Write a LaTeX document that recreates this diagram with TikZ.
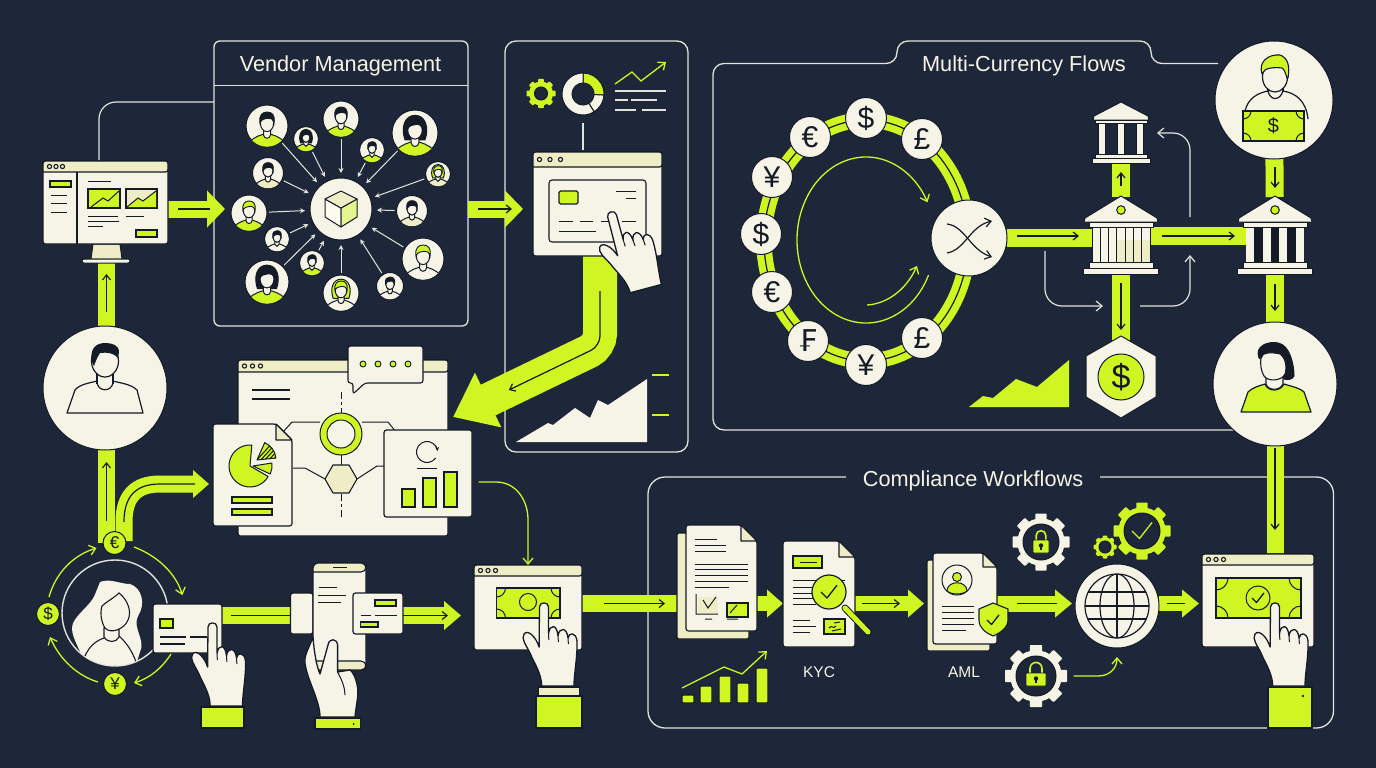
\documentclass[tikz,border=0pt]{standalone}
\usepackage{fontspec}
\setmainfont{Liberation Sans}
\newfontfamily\glyphfont{DejaVu Sans}
\usetikzlibrary{arrows.meta,calc,fit}
\definecolor{bg}{HTML}{1D2739}
\definecolor{lime}{HTML}{CFF523}
\definecolor{cream}{HTML}{F6F4E6}
\definecolor{pale}{HTML}{EFEDC6}
\definecolor{ink}{HTML}{141B27}
\definecolor{wirec}{HTML}{E2E3DA}
\pgfdeclarelayer{ground}\pgfdeclarelayer{frames}\pgfdeclarelayer{flows}\pgfsetlayers{ground,frames,flows,main}
\tikzset{
  frame/.style={draw=wirec,line width=1.3pt},
  wire/.style={draw=wirec,line width=1.2pt},
  wirearrow/.style={wire,-{Straight Barb[length=6pt,width=10pt]}},
  spoke/.style={draw=wirec,line width=1pt,shorten <=2pt,shorten >=5pt,-{Stealth[length=5pt,width=5pt]}},
  limewire/.style={draw=lime,line width=1.3pt},
  limearrow/.style={limewire,-{Straight Barb[length=6pt,width=10pt]}},
  bar/.style={draw=lime,line width=17pt},
  fatbar/.style 2 args={bar,-{Triangle[length=#1,width=#2]}},
  inner/.style 2 args={draw=ink,line width=1.2pt,shorten <=#1,shorten >=#2},
  innerarrow/.style 2 args={inner={#1}{#2},-{Straight Barb[length=5pt,width=8pt]}},
  disc/.style={circle,fill=cream,draw=ink,line width=1pt,inner sep=0pt,outer sep=0pt},
  coin/.style={disc,minimum size=41pt,text=ink,font=\fontsize{30}{30}\selectfont},
  minicoin/.style={disc,fill=lime,minimum size=23pt,text=ink,font=\fontsize{17}{17}\selectfont},
  sheet/.style={fill=cream,draw=ink,line width=1.2pt,rounded corners=2.5pt},
  sheetback/.style={fill=pale,draw=ink,line width=1.2pt,rounded corners=1.5pt},
  limebox/.style={fill=lime,draw=ink,line width=1.1pt},
  hidden/.style={draw=none},
  rule/.style={draw=ink,line width=1pt},
  title/.style={text=cream,font=\fontsize{21.7}{25}\selectfont,inner sep=0pt},
  caption/.style={text=cream,font=\fontsize{15.5}{18}\selectfont,inner sep=0pt},
}
% box node given by two opposite corners
\newcommand\bx[4]{\node[#2,fit={(#3) (#4)},inner sep=0pt,outer sep=0pt] (#1) {};}
% browser style window: name, x1, y1, x2, y2, title bar bottom, dot spacing
\newcommand\winbox[7]{%
  \bx{#1}{sheet}{#2,#3}{#4,#5}
  \draw[fill=pale,draw=ink,line width=1.2pt,rounded corners=2.5pt] (#2,#6) -- (#2,#3) -- (#4,#3) -- (#4,#6) [sharp corners] -- cycle;
  \foreach \k in {0,1,2}
    \draw[fill=pale,draw=ink,line width=1.1pt] ({#2+6.5+\k*#7},{(#3+#6)/2}) circle (2.1);
}
% pointing hand, fingertip at the given point
\newcommand\handicon[3]{%
  \begin{scope}[shift={(#1,#2)},rotate=#3]
    \draw[fill=cream,draw=ink,line width=1.3pt,line join=round]
      (-4.5,4) .. controls (-4.5,-1.5) and (4.5,-1.5) .. (4.5,4) -- (4.6,30)
      .. controls (6,21) and (13,21) .. (14,33)
      .. controls (15,24) and (23,24) .. (24,35)
      .. controls (25,29) and (32,29) .. (33,38)
      .. controls (33.5,55) and (30,70) .. (30,83) -- (-2.3,83)
      .. controls (-2.5,70) and (-10,60) .. (-14,50)
      .. controls (-18,42) and (-23,36) .. (-20,31)
      .. controls (-16,26) and (-8,34) .. (-4.9,44) -- cycle;
    \draw[rule] (4.6,30) -- (4.8,37) (14,33) -- (14.4,39) (24,35) -- (24.4,41);
  \end{scope}}
% banknote with quarter arcs in the corners
\newcommand\billicon[5]{%
  \draw[limebox] (#1,#2) rectangle (#3,#4);
  \begin{scope}
    \clip (#1,#2) rectangle (#3,#4);
    \draw[rule] (#1,#2) circle (#5) (#3,#2) circle (#5) (#1,#4) circle (#5) (#3,#4) circle (#5);
  \end{scope}}
% avatar: name, x, y, radius, hair colour, shirt colour, long hair flag
\newcommand\avatar[7]{%
  \node[disc,minimum size={2*#4*1pt}] (#1) at (#2,#3) {};
  \begin{scope}[shift={(#2,#3)},scale=#4/30]
    \begin{scope}
      \clip (0,0) circle (29.5);
      \ifnum#7=1
        \draw[fill=#5,draw=ink,line width=1pt] (-13,9) .. controls (-19,-8) and (-13,-23) .. (0,-23) .. controls (13,-23) and (19,-8) .. (13,9) -- cycle;
      \fi
      \draw[fill=#6,draw=ink,line width=1pt] (-28,32) .. controls (-25,18) and (-15,15) .. (-6,12) -- (6,12) .. controls (15,15) and (25,18) .. (28,32) -- cycle;
      \draw[fill=cream,draw=ink,line width=1pt] (-5,3) -- (-5,13) .. controls (-4,19) and (4,19) .. (5,13) -- (5,3) -- cycle;
    \end{scope}
    \draw[fill=cream,draw=ink,line width=1pt] (0,-4) ellipse [x radius=9.5,y radius=12];
    \draw[fill=#5,draw=ink,line width=.9pt] (-10,-4) .. controls (-12,-16) and (-6,-20) .. (0,-20) .. controls (7,-20) and (12,-16) .. (10,-4) .. controls (9,-10) and (5,-12) .. (1,-11) .. controls (-4,-10) and (-8,-10) .. (-10,-4) -- cycle;
  \end{scope}}
% gear: name, x, y, outer radius, hole radius, colour
\newcommand\gearicon[6]{%
  \node[circle,fill=#6,inner sep=0pt,outer sep=0pt,minimum size={1.66*#4*1pt}] (#1) at (#2,#3) {};
  \foreach \a in {0,45,...,315}
    \fill[#6,rotate around={\a:(#2,#3)},rounded corners=.8pt] ({#2-.2*#4},{#3-#4}) rectangle ({#2+.2*#4},{#3-.7*#4});
  \draw[fill=bg,draw=ink,line width=1pt] (#2,#3) circle (#5);
}
% padlock: centre x, body top, half width, body height
\newcommand\lockicon[4]{%
  \draw[draw=lime,line width=1.6pt] ({#1-.6*#3},#2) -- ({#1-.6*#3},{#2-.35*#4}) arc[start angle=180,end angle=360,radius={.6*#3}] -- ({#1+.6*#3},#2);
  \draw[fill=lime,draw=ink,line width=.6pt,rounded corners=1pt] ({#1-#3},#2) rectangle ({#1+#3},{#2+#4});
  \fill[ink] (#1,{#2+.42*#4}) circle ({.17*#4});
  \fill[ink] ({#1-.07*#4},{#2+.42*#4}) rectangle ({#1+.07*#4},{#2+.78*#4});
}
% check mark
\newcommand\tickmark[4]{%
  \draw[draw=#4,line width=1.3pt,line join=round] ({#1-#3},#2) -- ({#1-.25*#3},{#2+.75*#3}) -- ({#1+#3},{#2-.85*#3});}
% page with a folded corner
\newcommand\pageicon[6]{%
  \bx{#1}{hidden}{#2,#3}{#4,#5}
  \draw[sheet] (#2,#3) -- ({#4-#6},#3) -- (#4,{#3+#6}) -- (#4,#5) -- (#2,#5) -- cycle;
  \draw[fill=pale,draw=ink,line width=1.1pt,line join=round] ({#4-#6},#3) -- ({#4-#6},{#3+#6}) -- (#4,{#3+#6}) -- cycle;
}
% annular sector and pie sector
\newcommand\ringpart[7]{%
  \draw[fill=#7,draw=ink,line width=1pt] ($(#1,#2)+(#5:#3)$) arc[start angle=#5,end angle=#6,radius=#3] -- ($(#1,#2)+(#6:#4)$) arc[start angle=#6,end angle=#5,radius=#4] -- cycle;}
\newcommand\piepart[6]{%
  (#1,#2) -- ($(#1,#2)+(#4:#3)$) arc[start angle=#4,end angle=#5,radius=#3] -- cycle #6}
% bank with a wide roof and lime medallion
\newcommand\bankbig[3]{%
  \bx{#1}{hidden}{#2-29,197}{#2+29,275}
  \ifnum#3=0
    \draw[fill=cream,draw=ink,line width=1pt] (#2-29,226) rectangle (#2+29,263);
    \fill[pale] (#2-4,240) rectangle (#2+29,263);
    \foreach \k in {0,...,7} \draw[rule] ({#2-29+\k*8.3},226) -- ({#2-29+\k*8.3},263);
  \else
    \fill[ink] (#2-29,226) rectangle (#2+29,263);
    \foreach \k in {-29,-12,4,21} \fill[cream] (#2+\k,226) rectangle (#2+\k+8,263);
  \fi
  \draw[fill=cream,draw=ink,line width=1pt,line join=round] (#2,196) -- (#2+36,218) -- (#2+37,222) -- (#2-37,222) -- (#2-36,218) -- cycle;
  \draw[fill=cream,draw=ink,line width=1pt] (#2-32,222) rectangle (#2+32,227);
  \draw[fill=lime,draw=ink,line width=1pt] (#2,210) circle (4.3);
  \draw[fill=cream,draw=ink,line width=1pt] (#2-32,262) rectangle (#2+32,268);
  \draw[fill=cream,draw=ink,line width=1pt] (#2-37.5,268) rectangle (#2+37.5,274);
}
\begin{document}
\begin{tikzpicture}[x=1pt,y=-1pt]
\useasboundingbox (0,0) rectangle (1376,768);
\begin{pgfonlayer}{ground}
  \fill[bg] (0,0) rectangle (1376,768);
\end{pgfonlayer}

% ---------- section frames ----------
\begin{pgfonlayer}{frames}
  \bx{vendor}{frame,rounded corners=6pt}{214,41}{468,326}
  \draw[frame] (vendor.west |- 0,85.5) -- (vendor.east |- 0,85.5);
  \bx{panel}{frame,rounded corners=11pt}{505,41}{688,452}
  \draw[frame,rounded corners=11pt] (1218,63.5) -- (1151,63.5) -- (1151,41) -- (897,41) -- (897,63.5) -- (713,63.5) -- (713,430) -- (1240,430);
  \draw[frame,rounded corners=17pt] (846,477) -- (648,477) -- (648,728) -- (1333.5,728) -- (1333.5,477) -- (1100,477);
\end{pgfonlayer}
\node[title] (vendortitle) at (340.5,66) {Vendor Management};
\node[title] (currencytitle) at (1024,66) {Multi-Currency Flows};
\node[title] (compliancetitle) at (973,481) {Compliance Workflows};

% ---------- monitor ----------
\draw[fill=pale,draw=ink,line width=1pt] (93,244) -- (120,244) -- (122,259) -- (91,259) -- cycle;
\draw[fill=cream,draw=ink,line width=1pt,rounded corners=2pt] (82,259) rectangle (130,263);
\winbox{monitor}{43}{161}{168}{244}{172}{6.5}
\draw[draw=ink,line width=1.2pt] (77,172) -- (77,244);
\draw[limebox] (50,181) rectangle (71,187);
\draw[rule] (51,195) -- (67,195) (51,203) -- (67,203) (51,212) -- (67,212);
\draw[rule] (88,181) -- (111,181) (88,216) -- (118,216) (88,221) -- (119,221) (88,226) -- (103,226) (126,216) -- (144,216);
\draw[limebox] (88,189) rectangle (120,208);
\draw[rule] (91,207) -- (103,198) -- (108,201) -- (119,191);
\draw[fill=pale,draw=ink,line width=1.1pt] (126,189) rectangle (157,208);
\fill[lime] (127,207) -- (138,198) -- (143,201) -- (156,191) -- (156,207) -- cycle;
\draw[rule] (127,207) -- (138,198) -- (143,201) -- (156,191);
\draw[limebox] (136,230) rectangle (157,237);
\coordinate (mbase) at (106.5,263);
\coordinate (mvknee) at (99,102);
\begin{pgfonlayer}{frames}
  \draw[wire,rounded corners=17pt] (monitor.north -| mvknee) -- (mvknee) -- (vendor.west |- mvknee);
\end{pgfonlayer}

% ---------- vendor network ----------
\node[disc,minimum size=62pt] (hub) at (341,209) {};
\draw[fill=white!70!pale,draw=ink,line width=1pt,line join=round] (341,208) -- (325,199) -- (325,217) -- (341,227) -- cycle;
\draw[fill=lime!45!cream,draw=ink,line width=1pt,line join=round] (341,208) -- (357,199) -- (357,217) -- (341,227) -- cycle;
\draw[fill=pale,draw=ink,line width=1pt,line join=round] (341,191) -- (357,199) -- (341,208) -- (325,199) -- cycle;
\avatar{va}{267}{126}{21}{ink}{lime}{0}
\avatar{vb}{306}{139}{12.5}{ink}{lime}{1}
\avatar{vc}{341}{119}{18}{ink}{lime}{0}
\avatar{vd}{372}{150}{12.5}{ink}{lime}{0}
\avatar{ve}{415}{133}{23}{ink}{lime}{1}
\avatar{vf}{438}{174}{12.5}{lime}{pale}{1}
\avatar{vg}{412}{211}{15.5}{ink}{pale}{0}
\avatar{vh}{423}{259}{21}{lime}{cream}{0}
\avatar{vi}{390}{286}{13.5}{ink}{cream}{0}
\avatar{vj}{341}{293}{18}{lime}{cream}{1}
\avatar{vk}{312}{263}{12.5}{ink}{lime}{0}
\avatar{vl}{267}{282}{22}{ink}{lime}{1}
\avatar{vm}{277}{239}{12.5}{ink}{cream}{0}
\avatar{vn}{249}{213}{18}{lime}{lime}{0}
\avatar{vo}{268}{173}{15.5}{ink}{pale}{0}
\foreach \v in {va,vb,vc,vd,ve,vf,vg,vh,vi,vj,vk,vl,vm,vn,vo}
  \draw[spoke] (\v) -- (hub);

% ---------- analytics panel ----------
\gearicon{gearA}{541}{93.5}{14.5}{6.5}{lime}
\ringpart{583}{94}{21}{11}{-90}{3}{lime}
\ringpart{583}{94}{21}{11}{3}{58}{cream}
\ringpart{583}{94}{21}{11}{58}{270}{cream}
\node[circle,inner sep=0pt,outer sep=0pt,minimum size=42pt] (donut) at (583,94) {};
\draw[limearrow] (615,84) -- (632,72) -- (641,81) -- (666,62);
\draw[wire] (615,91) -- (666,91) (615,100) -- (628,100) (631,100) -- (657,100) (615,110) -- (636,110) (642,110) -- (666,110);
\winbox{winB}{533}{152}{662}{256}{167}{10.5}
\draw[fill=cream,draw=ink,line width=1.1pt,rounded corners=3pt] (549,180) rectangle (646,242);
\draw[limebox,rounded corners=1.5pt] (559,191) rectangle (578,204);
\draw[rule] (616,191) -- (636,191) (626,198) -- (636,198) (559,221) -- (573,221) (580,221) -- (593,221) (601,221) -- (608,221) (622,221) -- (636,221) (559,231) -- (596,231);
\handicon{611}{212}{15}
\fill[cream] (516,442) -- (548,423) -- (553,425) -- (575,408) -- (590,418) -- (598,400) -- (608,405) -- (647,379) -- (647,442) -- cycle;
\draw[limewire] (652,375) -- (669,375) (652,415) -- (669,415);
\draw[wire,shorten <=8pt,shorten >=2pt] (donut) -- (winB.north -| donut);

% ---------- central dashboard ----------
\winbox{dash}{238}{360}{448}{536}{372}{8}
\draw[draw=ink,line width=1.2pt] (252,390) -- (290,390) (252,399) -- (290,399);
\draw[rule,dash pattern=on 7pt off 3pt on 3pt off 3pt] (341,392) -- (341,414);
\draw[rule,dash pattern=on 7pt off 3pt on 3pt off 3pt] (341,494) -- (341,520);
\draw[rule] (341,455) -- (341,465);
\draw[rule] (283,432) -- (292,422) -- (320,422) (362,422) -- (388,422) -- (396,432);
\draw[rule] (293,468) -- (305,468) -- (325,479) (357,479) -- (377,466) -- (385,466);
\node[disc,fill=lime,minimum size=42pt] (hubring) at (341,434) {};
\draw[fill=cream,draw=ink,line width=1pt] (341,434) circle (14);
\draw[fill=pale,draw=ink,line width=1.1pt,line join=round] (325,479) -- (333,465) -- (349,465) -- (357,479) -- (349,493) -- (333,493) -- cycle;
\draw[fill=cream,draw=ink,line width=1.1pt,rounded corners=2.5pt] (348,346) -- (423,346) -- (423,383) -- (365,383) -- (353,394) -- (353,383) -- (348,383) -- cycle;
\foreach \x in {363,378,393,408} \draw[fill=lime,draw=ink,line width=.9pt] (\x,364) circle (3);
\pageicon{report}{213}{424}{292}{526}{16}
\draw[fill=lime,draw=ink,line width=1pt,line join=round] \piepart{250}{466}{21}{30}{275}{;}
\draw[fill=lime,draw=ink,line width=1pt,line join=round] \piepart{253}{466}{19}{-9}{25}{;}
\begin{scope}
  \clip \piepart{257}{460}{19}{-66}{-6}{;}
  \fill[lime] (255,440) rectangle (278,462);
  \foreach \s in {0,4,...,36} \draw[rule] (255+\s,462) -- (275+\s,440);
\end{scope}
\draw[draw=ink,line width=1pt,line join=round] \piepart{257}{460}{19}{-66}{-6}{;}
\draw[limebox] (232,497) rectangle (272,503);
\draw[limebox] (232,509) rectangle (272,515);
\bx{stats}{sheet}{384,430}{472,517}
\draw[rule,-{Stealth[length=4pt,width=4pt]}] ($(427,452)+(35:10.5)$) arc[start angle=35,end angle=355,radius=10.5];
\draw[rule] (417,468) -- (437,468);
\draw[limebox] (402,489) rectangle (415,507);
\draw[limebox] (423,478) rectangle (436,507);
\draw[limebox] (444,472) rectangle (457,507);
\node[circle,inner sep=0pt,outer sep=0pt,minimum size=1pt] (statsport) at (478,482) {};

% ---------- left column people and payment ----------
\node[disc,minimum size=124pt] (personL) at (105,388) {};
\draw[fill=cream,draw=ink,line width=1.2pt,line join=round] (67,413) -- (75,390) .. controls (80,384) and (90,383) .. (97,381) -- (97,383) .. controls (99,392) and (111,392) .. (113,383) -- (113,381) .. controls (120,383) and (131,384) .. (137,390) -- (143,413) -- cycle;
\draw[fill=cream,draw=none] (98,372) rectangle (112,384);
\draw[rule,line width=1.2pt] (97,372) -- (97,384) (113,372) -- (113,384);
\draw[fill=cream,draw=ink,line width=1.2pt] (105,361) ellipse [x radius=13.5,y radius=16];
\fill[ink] (92,362) .. controls (89,348) and (97,343) .. (105,343) .. controls (112,343) and (119,345) .. (119,352) -- (118,358) .. controls (114,353) and (107,352) .. (100,353) .. controls (98,356) and (96,360) .. (94,366) -- cycle;

\node[circle,draw=wirec,line width=1.4pt,inner sep=0pt,outer sep=0pt,minimum size=106pt] (wring) at (115,613) {};
\begin{scope}
  \clip (115,613) circle (52.5);
  \fill[cream] (100,582) .. controls (110,578) and (120,584) .. (130,584) .. controls (142,588) and (146,604) .. (138,616) .. controls (132,628) and (146,640) .. (140,652) -- (135,668) -- (85,668) .. controls (82,650) and (72,640) .. (72,628) .. controls (72,616) and (92,606) .. (96,592) -- cycle;
  \draw[fill=cream,draw=ink,line width=1.1pt] (81,670) .. controls (84,652) and (92,642) .. (104,638) -- (119,636) .. controls (128,644) and (134,654) .. (138,668) -- cycle;
\end{scope}
\draw[fill=cream,draw=ink,line width=1.1pt] (104,628) -- (104,637) .. controls (108,643) and (116,643) .. (119,637) -- (119,628) -- cycle;
\draw[fill=cream,draw=ink,line width=1.1pt] (102,606) .. controls (106,602) and (114,598) .. (119,593) .. controls (128,600) and (132,612) .. (128,620) .. controls (124,630) and (110,634) .. (105,628) .. controls (101,622) and (100,612) .. (102,606) -- cycle;
\node[minicoin] (eur) at (114.5,543) {€};
\node[minicoin] (usd) at (48,614) {\$};
\node[minicoin] (jpy) at (115,684) {¥};
\bx{card}{sheet}{153,604}{222,653}
\draw[limebox] (160,619) rectangle (173,628);
\draw[rule,line width=1.2pt] (160,637) -- (186,637) (190,637) -- (207,637) (160,644) -- (185,644);
\handicon{212.5}{623}{0}
\draw[limebox] (201,707) rectangle (244,728);
\draw[limearrow] (49,597) .. controls (56,572) and (74,555) .. (96.5,548);
\draw[limearrow,shorten >=2pt] (134,547) .. controls (158,556) and (176,574) .. (183,597);
\draw[limearrow] (171,654) .. controls (162,668) and (150,678) .. (134,683);
\draw[limearrow] (98,682) .. controls (78,676) and (60,660) .. (50,637);

% ---------- phone ----------
\bx{phoneback}{sheet}{290.5,593}{313,634}
\bx{phone}{sheet,rounded corners=6pt}{313,563}{366,670}
\draw[fill=pale,draw=ink,line width=1.1pt,rounded corners=5pt] (313,572) -- (313,563) -- (366,563) -- (366,572) [sharp corners] -- cycle;
\draw[fill=pale,draw=ink,line width=1.1pt,rounded corners=5pt] (313,661) -- (313,670) -- (366,670) -- (366,661) [sharp corners] -- cycle;
\draw[rule] (333,567) -- (347,567) (318.5,587) -- (336.5,587) (318,595) -- (346,595) (318,602) -- (341,602);
\bx{cardB}{sheet}{353,593}{403,634}
\draw[limebox] (375,600) rectangle (396,606);
\draw[rule] (360.5,615) -- (371,615) (375,615) -- (397,615);
\draw[limebox] (360.5,622) rectangle (378,627);
\draw[fill=cream,draw=ink,line width=1.3pt,line join=round] (313,637) .. controls (309,648) and (304,655) .. (305,663) .. controls (307,680) and (320,700) .. (320,717) -- (355,717) .. controls (356,705) and (359,695) .. (357.5,687) .. controls (356,678) and (353,672) .. (350,670) -- (337.6,672) -- (337.6,645) .. controls (337,638) and (329,638) .. (328,645) -- (320,674) .. controls (316,665) and (314,650) .. (313,637) -- cycle;
\draw[rule] (337.6,672) .. controls (342,680) and (345,688) .. (345,695);
\draw[limebox] (315,718) rectangle (360.5,729);
\fill[ink] (353.7,724) circle (1);

% ---------- checkout window ----------
\winbox{winC}{474}{565}{582}{650}{576}{7.5}
\billicon{496.5}{588}{560}{618}{9}
\draw[rule] (528,602) circle (8.5);
\handicon{544}{603}{0}
\draw[fill=pale,draw=ink,line width=1.1pt] (538.5,687) rectangle (579.5,696);
\draw[limebox] (536,696) rectangle (582,728);
\draw[limearrow] (statsport) -- (496,482) .. controls (516,482) and (528,500) .. (528,520) -- (winC.north -| 528,0);

% ---------- compliance documents ----------
\draw[sheetback] (677,533) rectangle (749,639);
\pageicon{stackA}{686}{525}{757}{631}{16}
\draw[rule] (695,539) -- (717,539) (695,545) -- (726,545) (695,551) -- (726,551);
\draw[rule] (695,564) -- (748,564) (695,569) -- (748,569) (695,575) -- (748,575) (695,581) -- (748,581) (695,587) -- (729,587);
\fill[pale] (698,597) rectangle (718,613);
\draw[rule] (696,594) -- (696,614) -- (718,614) (703,600) -- (708,608) -- (716,597) (705,619) -- (712,619);
\draw[limebox] (727,603) rectangle (748,617);
\draw[rule] (730,613) -- (737,605) (727,619) -- (738,619);
\pageicon{kyc}{783}{541}{855}{647}{16}
\draw[limebox] (793,556) rectangle (822,568);
\draw[rule] (800,562) -- (817,562);
\draw[rule] (793,580) -- (845,580) (793,587) -- (813,587) (793,593) -- (813,593) (793,598) -- (813,598) (793,604) -- (816,604);
\draw[rule] (793,620) -- (810,620) (793,626) -- (816,626) (793,632) -- (810,632);
\draw[limebox] (824,619) rectangle (845,634);
\draw[rule] (829,628) .. controls (832,624) and (833,630) .. (836,626) (834,623) -- (840,622) (832,631) -- (841,629);
\draw[ink,line width=7pt,line cap=round] (845,608) -- (868,632);
\draw[lime,line width=5pt,line cap=round] (845,608) -- (868,632);
\draw[fill=lime,draw=ink,line width=1.2pt] (829,592) circle (17);
\tickmark{829}{592}{8}{ink}
\draw[sheetback] (927,560) rectangle (990,651);
\pageicon{aml}{933}{553}{997}{644}{14}
\draw[rule] (957,580) circle (15);
\draw[fill=lime,draw=ink,line width=1pt] (957,577) circle (4.5);
\draw[fill=lime,draw=ink,line width=1pt] (947,591) .. controls (947,580) and (967,580) .. (967,591) .. controls (962,595) and (952,595) .. (947,591) -- cycle;
\draw[rule] (942,606) -- (974,606) (942,612) -- (974,612) (942,618) -- (974,618) (942,624) -- (974,624) (942,630) -- (966,630);
\draw[fill=lime,draw=ink,line width=1.1pt,line join=round] (993,603) -- (1008,609) -- (1008,620) .. controls (1008,628) and (1000,633) .. (993,636) .. controls (986,633) and (979,628) .. (979,620) -- (979,609) -- cycle;
\tickmark{993}{620}{6}{ink}
\node[caption] (kyclabel) at (819,672) {KYC};
\node[caption] (amllabel) at (964,672) {AML};
\foreach \a/\t in {682/695,700/686,719/676,737/683,756/668}
  \draw[limebox,rounded corners=1pt] (\a,\t) rectangle (\a+12,703);
\draw[limearrow] (682,688) -- (724,667) -- (742,674) -- (767,651);

% ---------- gears and globe ----------
\gearicon{gearC}{1041}{542}{28.5}{18}{cream}
\lockicon{1041}{540}{8}{13}
\gearicon{gearD}{1036}{676}{31}{20}{cream}
\lockicon{1036}{673}{10}{13}
\gearicon{gearE}{1142}{531}{28.5}{18}{lime}
\tickmark{1142}{531}{10}{lime}
\gearicon{gearF}{1105}{547}{11.5}{6}{lime}
\node[disc,minimum size=84pt] (globe) at (1117,606) {};
\begin{scope}
  \clip (1117,606) circle (32);
  \draw[rule,line width=1.2pt] (1117,606) ellipse [x radius=17,y radius=32];
  \draw[rule,line width=1.2pt] (1085,592) -- (1149,592) (1085,606) -- (1149,606) (1085,619) -- (1149,619) (1117,574) -- (1117,638);
\end{scope}
\draw[rule,line width=1.2pt] (1117,606) circle (32);
\draw[limearrow] (gearD.east) ++(12,0) -- (1098,676) .. controls (1110,676) and (1117,668) .. (1117,657);

% ---------- settlement window ----------
\winbox{winD}{1202}{554}{1314}{647}{565}{7.5}
\billicon{1216}{578}{1301}{618}{12}
\draw[rule] (1258,598) circle (12);
\tickmark{1258}{598}{6}{ink}
\draw[limebox] (1268,687) rectangle (1312,728);
\fill[ink] (1303,696) circle (1.3);
\handicon{1275}{603}{0}

% ---------- currency ring ----------
\node[coin] (coinA) at (866,118) {\$};
\node[coin] (coinB) at (922,139) {£};
\node[coin] (coinC) at (810,137) {€};
\node[coin] (coinD) at (772,177) {¥};
\node[coin] (coinE) at (761,234) {\$};
\node[coin] (coinF) at (772,292) {€};
\node[coin] (coinG) at (808,341) {\glyphfont ₣};
\node[coin] (coinH) at (866,365) {¥};
\node[coin] (coinI) at (922,338) {£};
\node[disc,minimum size=76pt] (swap) at (969,238) {};
\draw[rule,line width=1.2pt,-{Straight Barb[length=6pt,width=9pt]}] (947,224) .. controls (965,226) and (970,250) .. (992,257);
\draw[rule,line width=1.2pt,-{Straight Barb[length=6pt,width=9pt]}] (947,253) .. controls (965,250) and (970,226) .. (992,221);
\draw[limearrow] ($(866,240)+(25:69 and 83)$) arc[start angle=25,end angle=333,x radius=69,y radius=83];
\draw[limearrow] (867,305) .. controls (885,304) and (905,292) .. (917,266);

% ---------- banks ----------
\bankbig{bankM}{1121}{0}
\bankbig{bankR}{1275}{1}
\bx{bankT}{hidden}{1092,102}{1150,163}
\foreach \k in {1098,1117,1136.5} \draw[fill=cream,draw=ink,line width=.9pt] (\k,123) rectangle (\k+7,154);
\draw[fill=cream,draw=ink,line width=1pt,line join=round] (1121,102) -- (1148,116) -- (1149,120) -- (1093,120) -- (1094,116) -- cycle;
\draw[fill=cream,draw=ink,line width=1pt] (1095,120) rectangle (1147,123);
\draw[fill=cream,draw=ink,line width=1pt] (1095,154) rectangle (1147,158);
\draw[fill=cream,draw=ink,line width=1pt] (1092,158) rectangle (1150,163);
\draw[fill=cream,draw=ink,line width=1pt,line join=round] (1121,336) -- (1156,356) -- (1156,397) -- (1121,418) -- (1086,397) -- (1086,356) -- cycle;
\node[disc,fill=lime,text=ink,minimum size=46pt,font=\fontsize{34}{34}\selectfont] (reserve) at (1121,377) {\$};
\fill[lime] (969,407) -- (983,396) -- (993,398) -- (1016,379) -- (1037,387) -- (1069,360) -- (1069,407) -- cycle;
\draw[wirearrow,rounded corners=17pt] (1045,251) -- (1045,306) -- (1103,306);
\draw[wirearrow,rounded corners=17pt] (1140,306) -- (1190,306) -- (1190,255);
\draw[wirearrow,rounded corners=17pt] (1190,217) -- (1190,133) -- (1157,133);

% ---------- right column people ----------
\node[disc,minimum size=118pt] (personT) at (1274,100) {};
\draw[rule,line width=1.2pt] (1245,111) .. controls (1248,98) and (1258,93) .. (1268,91) .. controls (1270,101) and (1280,101) .. (1283,91) .. controls (1295,93) and (1306,100) .. (1308,119);
\draw[rule,line width=1.2pt] (1268,80) -- (1268,92) (1283,80) -- (1283,92);
\draw[fill=cream,draw=ink,line width=1.2pt] (1275,77) ellipse [x radius=12.5,y radius=15];
\draw[fill=lime,draw=ink,line width=1.1pt,line join=round] (1262,74) .. controls (1258,62) and (1268,54) .. (1280,55) .. controls (1288,58) and (1290,66) .. (1288,78) .. controls (1287,82) and (1286,70) .. (1282,68) .. controls (1274,67) and (1268,68) .. (1265,70) -- cycle;
\billicon{1243}{111}{1304}{141}{8}
\node[text=ink,inner sep=0pt,font=\fontsize{20}{20}\selectfont] (billsign) at (1273.5,126) {\$};
\node[disc,minimum size=124pt] (personB) at (1275,384) {};
\draw[fill=ink,draw=ink,line width=1pt] (1259,358) .. controls (1254,345) and (1270,341) .. (1278,343) .. controls (1290,345) and (1294,365) .. (1294,376) .. controls (1292,380) and (1287,380) .. (1284,379) -- (1270,365) -- cycle;
\draw[fill=lime,draw=ink,line width=1.2pt,line join=round] (1241,412) -- (1248,392) .. controls (1252,388) and (1258,386) .. (1265,384) .. controls (1268,392) and (1280,392) .. (1284,384) .. controls (1290,386) and (1300,388) .. (1304,392) -- (1311,412) -- cycle;
\draw[fill=cream,draw=ink,line width=1.1pt] (1266,372) -- (1266,384) .. controls (1268,391) and (1280,391) .. (1283,384) -- (1283,372) -- cycle;
\draw[fill=cream,draw=ink,line width=1.1pt] (1261,358) .. controls (1262,352) and (1272,352) .. (1280,354) .. controls (1286,358) and (1287,368) .. (1285,374) .. controls (1282,381) and (1268,382) .. (1264,376) .. controls (1261,371) and (1260,364) .. (1261,358) -- cycle;

% ---------- flows between the blocks ----------
\coordinate (tipA) at (225,209);
\coordinate (tipB) at (523,209);
\coordinate (tipC) at (453,417);
\coordinate (kneeC) at (600,346);
\coordinate (tipD) at (209,484);
\coordinate (bendS) at (124,541);
\coordinate (rowB) at (0,615.5);
\coordinate (rowC) at (0,603.5);
\coordinate (stackL) at (677,0);
\coordinate (tipE) at (461,615.5);
\coordinate (tipF) at (783,603.5);
\coordinate (tipG) at (924,603.5);
\coordinate (tipH) at (1072,603.5);
\coordinate (tipI) at (1199,603.5);
\begin{pgfonlayer}{flows}
  \draw[fatbar={18pt}{36pt}] (monitor.east |- tipA) -- (tipA);
  \draw[inner={10pt}{15pt}] (monitor.east |- tipA) -- (tipA);
  \draw[fatbar={18pt}{36pt}] (vendor.east |- tipB) -- (tipB);
  \draw[innerarrow={10pt}{11pt}] (vendor.east |- tipB) -- (tipB);
  \draw[bar] (mbase |- personL.north) -- (mbase);
  \draw[innerarrow={14pt}{11pt}] (mbase |- personL.north) -- (mbase);
  \draw[bar] (mbase |- personL.south) -- (mbase |- eur);
  \draw[innerarrow={22pt}{12pt}] (mbase |- eur) -- (mbase |- personL.south);
  \draw[fatbar={16pt}{27pt}] (bendS) -- (124,522) .. controls (124,496) and (136,484) .. (160,484) -- (tipD);
  \draw[inner={20pt}{14pt}] (bendS) -- (124,522) .. controls (124,496) and (136,484) .. (160,484) -- (tipD);
  \draw[bar,line width=34pt,rounded corners=12pt,-{Triangle[length=39pt,width=58pt]}] (winB.south -| kneeC) -- (kneeC) -- (tipC);
  \draw[innerarrow={35pt}{62pt},rounded corners=10pt] (winB.south -| kneeC) -- (kneeC) -- (tipC);
  \draw[bar] (card.east |- rowB) -- (phoneback.west |- rowB);
  \draw[inner={9pt}{0pt}] (card.east |- rowB) -- (phoneback.west |- rowB);
  \draw[fatbar={17pt}{28pt}] (cardB.east |- tipE) -- (tipE);
  \draw[innerarrow={0pt}{13pt}] (cardB.east |- tipE) -- (tipE);
  \draw[bar] (winC.east |- rowC) -- (stackL |- rowC);
  \draw[innerarrow={22pt}{12pt}] (winC.east |- rowC) -- (stackL |- rowC);
  \draw[fatbar={16pt}{27pt},line width=15pt] (stackA.east |- tipF) -- (tipF);
  \draw[fatbar={16pt}{27pt},line width=15pt] (kyc.east |- tipG) -- (tipG);
  \draw[innerarrow={7pt}{24pt}] (kyc.east |- tipG) -- (tipG);
  \draw[fatbar={17pt}{27pt},line width=16pt] (aml.east |- tipH) -- (tipH);
  \draw[inner={20pt}{15pt}] (aml.east |- tipH) -- (tipH);
  \draw[fatbar={17pt}{27pt},line width=15pt] (globe.east |- tipI) -- (tipI);
  \draw[inner={8pt}{14pt}] (globe.east |- tipI) -- (tipI);
  % currency ring band
  \draw[lime,line width=15.5pt] (866,240.5) ellipse [x radius=102,y radius=120.5];
  \draw[ink,line width=1.2pt] (866,240.5) ellipse [x radius=102,y radius=120.5];
  \draw[bar,line width=18pt] (swap) -- (swap -| bankM.west);
  \draw[innerarrow={10pt}{13pt}] (swap.east |- bankM) -- (bankM.west |- bankM);
  \draw[bar,line width=18pt] (bankM) -- (bankR);
  \draw[innerarrow={12pt}{11pt}] (bankM.east) -- (bankR.west);
  \draw[bar,line width=18pt] (bankM) -- (bankT);
  \draw[innerarrow={11pt}{9pt}] (bankM.north) -- (bankT.south);
  \draw[bar,line width=18pt] (bankM) -- (reserve);
  \draw[innerarrow={8pt}{24pt}] (bankM.south) -- (bankM.south |- 0,354);
  \draw[bar,line width=18pt] (personT) -- (bankR);
  \draw[innerarrow={8pt}{9pt}] (personT.south -| bankR) -- (bankR.north);
  \draw[bar,line width=18pt] (bankR) -- (personB);
  \draw[innerarrow={9pt}{11pt}] (bankR.south) -- (personB.north -| bankR);
  \draw[bar] (personB) -- (personB |- winD.north);
  \draw[innerarrow={2pt}{24pt}] (personB.south) -- (personB |- winD.north);
\end{pgfonlayer}
\end{tikzpicture}
\end{document}
